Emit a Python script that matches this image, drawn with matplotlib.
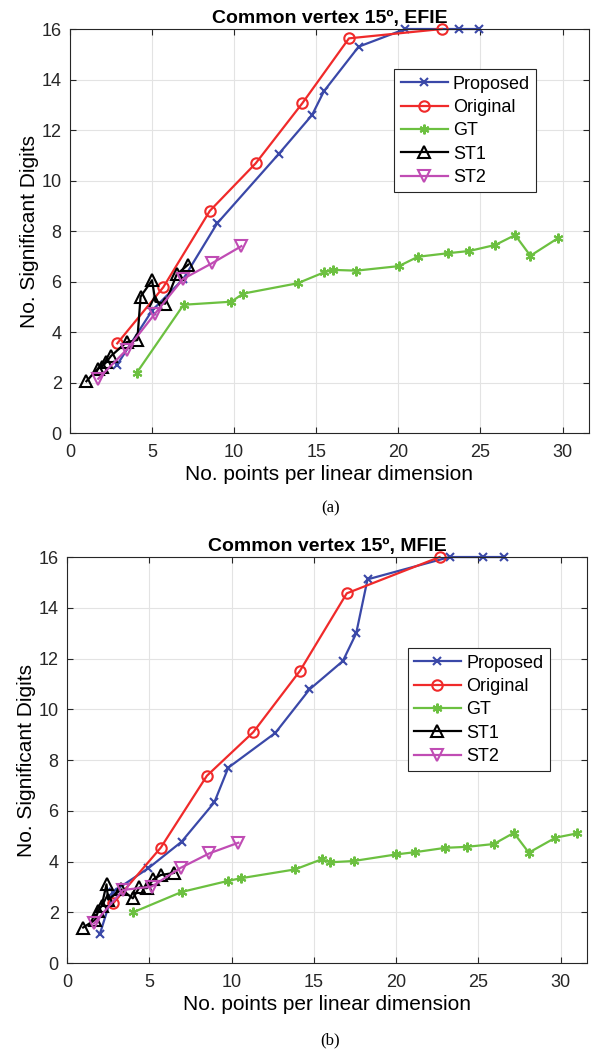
import matplotlib.pyplot as plt
import numpy as np

plt.rcParams['font.family'] = ['Liberation Sans', 'DejaVu Sans']

# ---- EFIE (a) ----
efie_prop_x = [2.85, 5.0, 6.9, 8.96, 12.71, 14.74, 15.47, 17.58, 20.42, 23.72, 24.9]
efie_prop_y = [2.68, 4.85, 6.1, 8.3, 11.05, 12.59, 13.54, 15.3, 16.0, 16.0, 16.0]
efie_orig_x = [2.88, 5.68, 8.52, 11.31, 14.15, 16.99, 22.65]
efie_orig_y = [3.55, 5.77, 8.8, 10.68, 13.06, 15.63, 16.0]
efie_gt_x = [4.06, 6.92, 9.83, 10.54, 13.86, 15.5, 16.02, 17.44, 20.03, 21.19, 23.01, 24.33, 25.91, 27.11, 28.04, 29.7]
efie_gt_y = [2.38, 5.08, 5.2, 5.52, 5.93, 6.37, 6.46, 6.43, 6.61, 6.98, 7.12, 7.21, 7.45, 7.84, 7.02, 7.71]
efie_st1_x = [1.0, 1.7, 1.95, 2.2, 2.5, 3.45, 4.1, 4.3, 5.0, 5.2, 5.8, 6.5, 7.2]
efie_st1_y = [2.05, 2.55, 2.62, 2.8, 3.05, 3.6, 3.68, 5.4, 6.05, 5.2, 5.12, 6.28, 6.67]
efie_st2_x = [1.72, 3.45, 5.17, 6.88, 8.64, 10.44]
efie_st2_y = [2.15, 3.3, 4.72, 6.1, 6.72, 7.4]

# ---- MFIE (b) ----
mfie_prop_x = [2.0, 2.8, 4.93, 6.96, 8.95, 9.8, 12.66, 14.73, 16.76, 17.57, 18.26, 23.25, 25.28, 26.54]
mfie_prop_y = [1.15, 2.81, 3.73, 4.78, 6.33, 7.7, 9.07, 10.78, 11.9, 12.99, 15.12, 16.0, 16.0, 16.0]
mfie_orig_x = [2.8, 5.7, 8.5, 11.32, 14.16, 17.0, 22.64]
mfie_orig_y = [2.35, 4.55, 7.38, 9.1, 11.52, 14.57, 16.0]
mfie_gt_x = [4.02, 6.96, 9.8, 10.55, 13.86, 15.48, 15.99, 17.41, 20.0, 21.16, 22.99, 24.31, 25.93, 27.15, 28.06, 29.68, 31.0]
mfie_gt_y = [2.0, 2.8, 3.24, 3.34, 3.69, 4.09, 3.97, 4.02, 4.28, 4.37, 4.54, 4.58, 4.69, 5.13, 4.35, 4.94, 5.11]
mfie_st1_x = [0.98, 1.7, 1.9, 2.1, 2.4, 2.5, 3.3, 4.0, 4.4, 4.85, 5.25, 5.7, 6.5]
mfie_st1_y = [1.4, 1.7, 2.05, 2.25, 3.1, 2.5, 2.9, 2.55, 2.98, 2.95, 3.3, 3.47, 3.55]
mfie_st2_x = [1.64, 3.41, 5.14, 6.9, 8.64, 10.41]
mfie_st2_y = [1.56, 2.88, 3.01, 3.75, 4.32, 4.74]

labels = ["Proposed", "Original", "GT", "ST1", "ST2"]
colors = ["#3a48a8", "#f02a2a", "#6cc040", "#000000", "#c04cb4"]
markers = ["x", "o", (6, 2, 0), "^", "v"]
msizes = [6, 7.5, 7, 8, 8]


def draw(ax, series, title, legend_anchor):
    for (xs, ys), lab, c, m, ms in zip(series, labels, colors, markers, msizes):
        ax.plot(xs, ys, color=c, lw=1.6, marker=m, ms=ms, mew=1.5,
                mfc='none' if m in ("o", "^", "v") else c, label=lab, clip_on=False)
    ax.set_xlim(0, 31.6)
    ax.set_ylim(0, 16)
    ax.set_xticks(np.arange(0, 31, 5))
    ax.set_yticks(np.arange(0, 17, 2))
    ax.grid(True, color='#e3e3e3', lw=0.8)
    ax.set_axisbelow(True)
    ax.tick_params(direction='in', top=True, right=True, labelsize=13,
                   colors='#262626', length=4)
    ax.tick_params(axis='x', pad=8)
    ax.tick_params(axis='y', pad=6)
    for s in ax.spines.values():
        s.set_color('#262626')
        s.set_linewidth(0.8)
    ax.set_title(title, fontsize=14, fontweight='bold', pad=4)
    ax.set_xlabel("No. points per linear dimension", fontsize=15, labelpad=3)
    ax.set_ylabel("No. Significant Digits", fontsize=15, labelpad=2)
    leg = ax.legend(loc='upper left', bbox_to_anchor=legend_anchor, fontsize=13,
                    fancybox=False, edgecolor='#262626', framealpha=1,
                    handlelength=2.6, handletextpad=0.3, labelspacing=0.35,
                    borderpad=0.35, borderaxespad=0)
    leg.get_frame().set_linewidth(0.8)


fig = plt.figure(figsize=(5.93, 10.51), dpi=100)
ax1 = fig.add_axes([0.118, 0.588, 0.875, 0.3844])
ax2 = fig.add_axes([0.113, 0.0837, 0.877, 0.3863])

draw(ax1, [(efie_prop_x, efie_prop_y), (efie_orig_x, efie_orig_y), (efie_gt_x, efie_gt_y),
           (efie_st1_x, efie_st1_y), (efie_st2_x, efie_st2_y)],
     "Common vertex 15º, EFIE", (0.625, 0.9))
draw(ax2, [(mfie_prop_x, mfie_prop_y), (mfie_orig_x, mfie_orig_y), (mfie_gt_x, mfie_gt_y),
           (mfie_st1_x, mfie_st1_y), (mfie_st2_x, mfie_st2_y)],
     "Common vertex 15º, MFIE", (0.655, 0.775))

fig.text(0.557, 1 - 508 / 1051, "(a)", ha='center', va='center', fontsize=12,
         family=['Liberation Serif', 'DejaVu Serif'])
fig.text(0.557, 1 - 1040 / 1051, "(b)", ha='center', va='center', fontsize=12,
         family=['Liberation Serif', 'DejaVu Serif'])

fig.savefig("out.png", dpi=100)
